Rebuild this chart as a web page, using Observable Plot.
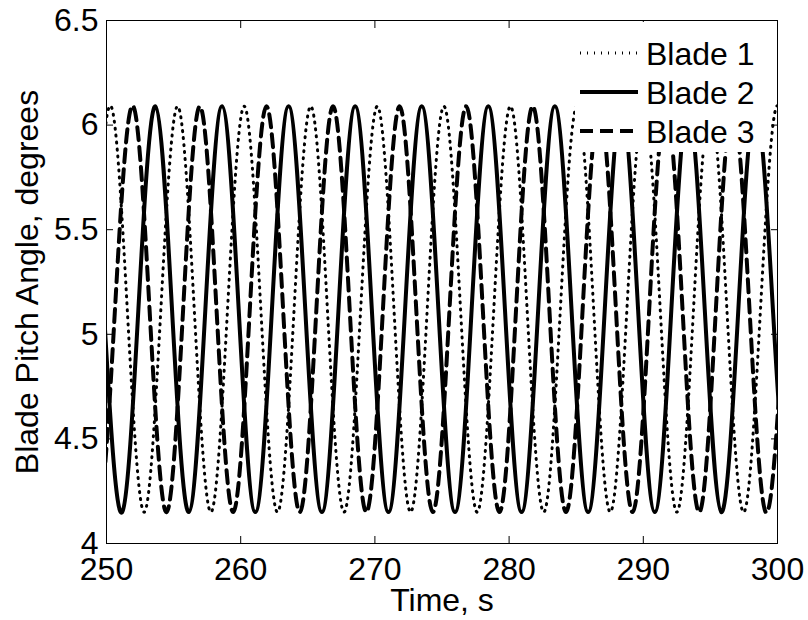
<!DOCTYPE html>
<html>
<head>
<meta charset="utf-8">
<script src="https://cdn.jsdelivr.net/npm/d3@7"></script>
<script src="https://cdn.jsdelivr.net/npm/@observablehq/plot@0.6"></script>
<style>
  html, body { margin: 0; padding: 0; background: #fff; }
  #wrap { position: relative; width: 808px; height: 620px; font-family: 'Liberation Sans', Arial, Helvetica, sans-serif; }
  #legend { position: absolute; left: 575px; top: 22px; width: 193px; height: 130px; background: #fff; }
  #legend svg { display: block; }
</style>
</head>
<body>
<div id="wrap"></div>
<script>
// ---- Data (times of peaks/troughs, s; pitch values, degrees) ----
const seriesNames = ["Blade 1", "Blade 2", "Blade 3"];

const blade1Times = [245.38, 247.86, 250.34, 252.82, 255.30, 257.78, 260.26, 262.74, 265.22, 267.70, 270.18,
                     272.66, 275.14, 277.62, 280.10, 282.58, 285.06, 287.54, 290.02, 292.50, 294.98, 297.46,
                     299.94, 302.42, 304.90];
const blade1Values = [6.09, 4.15, 6.09, 4.15, 6.09, 4.15, 6.09, 4.15, 6.09, 4.15, 6.09,
                      4.15, 6.09, 4.15, 6.09, 4.15, 6.09, 4.15, 6.09, 4.15, 6.09, 4.15,
                      6.09, 4.15, 6.09];

const blade2Times = [246.21, 248.69, 251.17, 253.65, 256.13, 258.61, 261.09, 263.57, 266.05, 268.53, 271.01,
                     273.49, 275.97, 278.45, 280.93, 283.41, 285.89, 288.37, 290.85, 293.33, 295.81, 298.29,
                     300.77, 303.25];
const blade2Values = [4.15, 6.09, 4.15, 6.09, 4.15, 6.09, 4.15, 6.09, 4.15, 6.09, 4.15,
                      6.09, 4.15, 6.09, 4.15, 6.09, 4.15, 6.09, 4.15, 6.09, 4.15, 6.09,
                      4.15, 6.09];

const blade3Times = [247.04, 249.52, 252.00, 254.48, 256.96, 259.44, 261.92, 264.40, 266.88, 269.36, 271.84,
                     274.32, 276.80, 279.28, 281.76, 284.24, 286.72, 289.20, 291.68, 294.16, 296.64, 299.12,
                     301.60, 304.08];
const blade3Values = [6.09, 4.15, 6.09, 4.15, 6.09, 4.15, 6.09, 4.15, 6.09, 4.15, 6.09,
                      4.15, 6.09, 4.15, 6.09, 4.15, 6.09, 4.15, 6.09, 4.15, 6.09, 4.15,
                      6.09, 4.15];

const xTicks = [250, 260, 270, 280, 290, 300];
const xTickLabels = ["250", "260", "270", "280", "290", "300"];
const yTicks = [4, 4.5, 5, 5.5, 6, 6.5];
const yTickLabels = ["4", "4.5", "5", "5.5", "6", "6.5"];
const xLabel = "Time, s";
const yLabel = "Blade Pitch Angle, degrees";

// ---- Styles ----
const styles = [
  {strokeWidth: 3, strokeDasharray: "1,6"},
  {strokeWidth: 4, strokeDasharray: null},
  {strokeWidth: 4, strokeDasharray: "13,7"}
];

const toRows = (ts, vs) => ts.map((t, i) => ({t, v: vs[i]}));
const series = [toRows(blade1Times, blade1Values), toRows(blade2Times, blade2Values), toRows(blade3Times, blade3Values)];

const fmtX = d => xTickLabels[xTicks.indexOf(d)];
const fmtY = d => yTickLabels[yTicks.indexOf(d)];

const lineMarks = series.map((rows, i) => Plot.line(rows, {
  x: "t", y: "v", stroke: "black", strokeWidth: styles[i].strokeWidth,
  strokeDasharray: styles[i].strokeDasharray, curve: "natural", clip: true
}));

const chart = Plot.plot({
  width: 808, height: 620,
  marginLeft: 106, marginRight: 31, marginTop: 20, marginBottom: 77,
  style: {fontFamily: "'Liberation Sans', Arial, Helvetica, sans-serif", fontSize: "32px", color: "black", background: "white", overflow: "visible"},
  x: {domain: [250, 300]},
  y: {domain: [4, 6.5]},
  marks: [
    ...lineMarks,
    Plot.frame({stroke: "black", strokeWidth: 1}),
    Plot.axisX(xTicks, {anchor: "bottom", tickSize: 0, tickPadding: 14, tickFormat: fmtX,
      label: xLabel, labelAnchor: "center", labelOffset: 67, labelArrow: "none"}),
    Plot.axisX(xTicks, {anchor: "bottom", tickSize: 7, dy: -7, text: null, label: null}),
    Plot.axisX(xTicks, {anchor: "top", tickSize: 7, dy: 7, text: null, label: null}),
    Plot.axisY(yTicks, {anchor: "left", tickSize: 0, tickPadding: 8, tickFormat: fmtY,
      label: yLabel, labelAnchor: "center", labelOffset: 91, labelArrow: "none"}),
    Plot.axisY(yTicks, {anchor: "left", tickSize: 7, dx: 7, text: null, label: null}),
    Plot.axisY(yTicks, {anchor: "right", tickSize: 7, dx: -7, text: null, label: null})
  ]
});

const wrap = document.getElementById("wrap");
wrap.appendChild(chart);

// ---- Legend (HTML overlay, white background occludes curves like the reference) ----
const legend = document.createElement("div");
legend.id = "legend";
const ns = "http://www.w3.org/2000/svg";
const lsvg = document.createElementNS(ns, "svg");
lsvg.setAttribute("width", "193");
lsvg.setAttribute("height", "130");
seriesNames.forEach((name, i) => {
  const yLine = 31 + i * 39;
  const ln = document.createElementNS(ns, "line");
  ln.setAttribute("x1", "5"); ln.setAttribute("x2", "63");
  ln.setAttribute("y1", yLine); ln.setAttribute("y2", yLine);
  ln.setAttribute("stroke", "black");
  ln.setAttribute("stroke-width", styles[i].strokeWidth);
  if (styles[i].strokeDasharray) ln.setAttribute("stroke-dasharray", styles[i].strokeDasharray);
  lsvg.appendChild(ln);
  const tx = document.createElementNS(ns, "text");
  tx.setAttribute("x", "71");
  tx.setAttribute("y", yLine + 12);
  tx.setAttribute("font-size", "32");
  tx.setAttribute("font-family", "'Liberation Sans', Arial, Helvetica, sans-serif");
  tx.setAttribute("fill", "black");
  tx.textContent = name;
  lsvg.appendChild(tx);
});
legend.appendChild(lsvg);
wrap.appendChild(legend);
</script>
</body>
</html>
